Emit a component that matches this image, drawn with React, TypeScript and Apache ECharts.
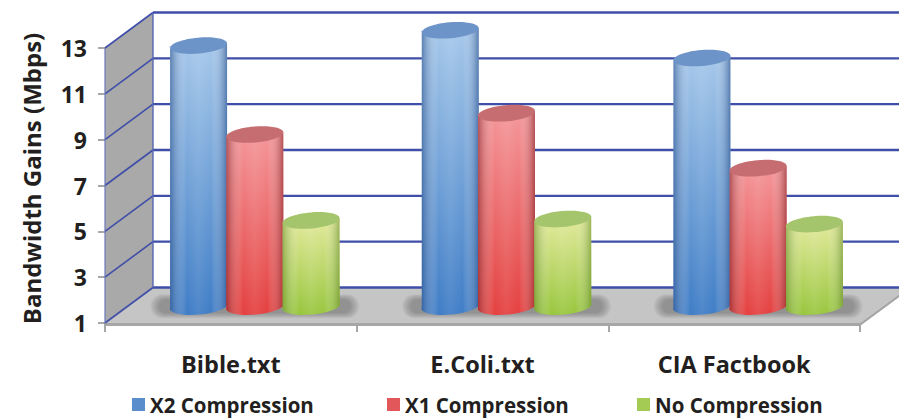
import React, { useEffect, useRef } from "react";
import * as echarts from "echarts";

const categories = ["Bible.txt", "E.Coli.txt", "CIA Factbook"];
const seriesNames = ["X2 Compression", "X1 Compression", "No Compression"];
const x2Values = [12.33, 13.0, 11.79];
const x1Values = [8.45, 9.38, 6.98];
const noValues = [4.7, 4.76, 4.54];
const yTicks = [1, 3, 5, 7, 9, 11, 13];

const FONT = '"Open Sans", sans-serif';
const INK = "#231f20";
const DEPTH_X = 48;
const DEPTH_Y = 35.5;
const LINE = "#3f4ea8";
const TILT = (5 * Math.PI) / 180;

type Palette = { top: string; bottom: string; edge: string; cap: string; swatch: string };
const palettes: Palette[] = [
  { top: "#a6c8ea", bottom: "#3f7dc6", edge: "rgba(40,80,140,0.62)", cap: "#6d94c8", swatch: "#5a8dcb" },
  { top: "#f4979b", bottom: "#e4403f", edge: "rgba(130,30,35,0.58)", cap: "#c56d70", swatch: "#e2575a" },
  { top: "#e4ea9c", bottom: "#98c63e", edge: "rgba(95,135,35,0.55)", cap: "#a5c56c", swatch: "#a4cc55" },
];

function frameItem(params: any, api: any) {
  const cs = params.coordSys;
  const left = cs.x;
  const right = cs.x + cs.width;
  const bottom = api.coord([0, yTicks[0]])[1];
  const top = api.coord([0, yTicks[yTicks.length - 1]])[1];
  const children: any[] = [];
  children.push({
    type: "polygon",
    shape: { points: [[left, bottom], [left, top], [left + DEPTH_X, top - DEPTH_Y], [left + DEPTH_X, bottom - DEPTH_Y]] },
    style: { fill: "#a9a9a9" },
  });
  children.push({
    type: "polygon",
    shape: { points: [[left, bottom], [right, bottom], [right + DEPTH_X, bottom - DEPTH_Y], [left + DEPTH_X, bottom - DEPTH_Y]] },
    style: { fill: "#c5c5c5" },
  });
  children.push({
    type: "polygon",
    shape: { points: [[left, bottom], [right, bottom], [right + DEPTH_X, bottom - DEPTH_Y], [right + DEPTH_X, bottom - DEPTH_Y + 3], [right, bottom + 3], [left, bottom + 3]] },
    style: { fill: "#a6a6a6" },
  });
  yTicks.forEach((v) => {
    const y = api.coord([0, v])[1];
    children.push({
      type: "line",
      shape: { x1: left + DEPTH_X, y1: y - DEPTH_Y, x2: right + DEPTH_X, y2: y - DEPTH_Y },
      style: { stroke: LINE, lineWidth: 2.4 },
    });
    children.push({
      type: "line",
      shape: { x1: left, y1: y, x2: left + DEPTH_X, y2: y - DEPTH_Y },
      style: { stroke: LINE, lineWidth: 1.6 },
    });
  });
  children.push({
    type: "line",
    shape: { x1: left + DEPTH_X, y1: top - DEPTH_Y, x2: left + DEPTH_X, y2: bottom - DEPTH_Y },
    style: { stroke: "#5566b4", lineWidth: 1.4 },
  });
  children.push({
    type: "line",
    shape: { x1: left, y1: top, x2: left, y2: bottom },
    style: { stroke: "#6a78bc", lineWidth: 1.2 },
  });
  return { type: "group", children };
}

function shadowItem(_params: any, api: any) {
  const band = api.size([1, 0])[0];
  const p = api.coord([api.value(0), yTicks[0]]);
  const cx = p[0] + DEPTH_X / 2;
  const cy = p[1] - DEPTH_Y / 2 + 1;
  const layers = [
    { w: 0.83, h: 24 },
    { w: 0.82, h: 22.5 },
    { w: 0.81, h: 21 },
    { w: 0.8, h: 19.5 },
    { w: 0.79, h: 18 },
    { w: 0.78, h: 16.5 },
    { w: 0.77, h: 15 },
    { w: 0.76, h: 13.5 },
  ];
  return {
    type: "group",
    children: layers.map((l) => ({
      type: "rect",
      shape: { x: cx - (band * l.w) / 2, y: cy - l.h / 2, width: band * l.w, height: l.h, r: l.h / 2 },
      style: { fill: "rgba(95,95,95,0.075)" },
    })),
  };
}

function cylinderItem(index: number) {
  const pal = palettes[index];
  return (_params: any, api: any) => {
    const band = api.size([1, 0])[0];
    const rx = band * 0.1135;
    const ry = 8;
    const cx = api.coord([api.value(0), 1])[0] + DEPTH_X / 2 + (index - 1) * band * 0.2235;
    const by = api.coord([api.value(0), yTicks[0]])[1] - DEPTH_Y / 2;
    const ty = api.coord([api.value(0), api.value(1)])[1] - DEPTH_Y / 2;
    const dx = rx * Math.cos(TILT);
    const dy = rx * Math.sin(TILT);
    const deg = -(TILT * 180) / Math.PI;
    const d =
      `M ${cx - dx} ${ty + dy} L ${cx - dx} ${by + dy} ` +
      `A ${rx} ${ry} ${deg} 0 0 ${cx + dx} ${by - dy} L ${cx + dx} ${ty - dy} ` +
      `A ${rx} ${ry} ${deg} 0 1 ${cx - dx} ${ty + dy} Z`;
    const vertical = new echarts.graphic.LinearGradient(0, 0, 0, 1, [
      { offset: 0, color: pal.top },
      { offset: 1, color: pal.bottom },
    ]);
    const horizontal = new echarts.graphic.LinearGradient(0, 0, 1, 0, [
      { offset: 0, color: pal.edge },
      { offset: 0.3, color: "rgba(255,255,255,0)" },
      { offset: 0.5, color: "rgba(255,255,255,0.08)" },
      { offset: 0.72, color: "rgba(255,255,255,0)" },
      { offset: 1, color: pal.edge },
    ]);
    return {
      type: "group",
      children: [
        { type: "path", shape: { pathData: d }, style: { fill: vertical } },
        { type: "path", shape: { pathData: d }, style: { fill: horizontal } },
        {
          type: "ellipse",
          x: cx,
          y: ty,
          rotation: TILT,
          shape: { cx: 0, cy: 0, rx, ry },
          style: { fill: pal.cap },
        },
      ],
    };
  };
}

const valueSets = [x2Values, x1Values, noValues];
const legendLefts = [132, 387, 637];

export default function App() {
  const ref = useRef<HTMLDivElement>(null);
  useEffect(() => {
    const chart = echarts.init(ref.current!, undefined, { renderer: "svg", width: 899, height: 419 });
    chart.setOption({
      animation: false,
      backgroundColor: "#ffffff",
      textStyle: { fontFamily: FONT },
      grid: { left: 105, top: 48, width: 755, height: 275, containLabel: false },
      legend: seriesNames.map((name, i) => ({
        data: [name],
        left: legendLefts[i],
        top: 394,
        padding: 0,
        icon: "rect",
        itemWidth: 13,
        itemHeight: 13,
        itemGap: 0,
        selectedMode: false,
        textStyle: { color: INK, fontFamily: FONT, fontWeight: 700, fontSize: 20.5, padding: [0, 0, 0, 0] },
      })),
      xAxis: {
        type: "category",
        data: categories,
        axisLine: { show: false },
        axisTick: { show: true, length: 9, lineStyle: { color: "#8a8a8a", width: 1.5 } },
        axisLabel: { color: INK, fontFamily: FONT, fontWeight: 700, fontSize: 23.5, margin: 29 },
      },
      yAxis: {
        type: "value",
        min: 1,
        max: 13,
        interval: 2,
        name: "Bandwidth Gains (Mbps)",
        nameLocation: "middle",
        nameRotate: 90,
        nameGap: 62,
        nameTextStyle: { color: INK, fontFamily: FONT, fontWeight: 700, fontSize: 24, padding: [0, 0, 0, 14] },
        axisLine: { show: false },
        axisTick: { show: true, length: 7, lineStyle: { color: "#8a8a8a", width: 1.5 } },
        splitLine: { show: false },
        axisLabel: { color: INK, fontFamily: FONT, fontWeight: 700, fontSize: 23, margin: 18, padding: [18, 0, 0, 0] },
      },
      series: [
        {
          type: "custom",
          name: "frame",
          silent: true,
          clip: false,
          renderItem: frameItem,
          data: [[0, 1]],
          encode: { x: 0, y: 1 },
          z: 1,
        },
        {
          type: "custom",
          name: "floor shadow",
          silent: true,
          clip: false,
          renderItem: shadowItem,
          data: categories.map((_, i) => [i, 1]),
          encode: { x: 0, y: 1 },
          z: 2,
        },
        ...seriesNames.map((name, i) => ({
          type: "custom",
          name,
          clip: false,
          renderItem: cylinderItem(i),
          itemStyle: { color: palettes[i].swatch },
          data: categories.map((_, c) => [c, valueSets[i][c]]),
          encode: { x: 0, y: 1 },
          z: 3 + i,
        })),
      ],
    });
    return () => chart.dispose();
  }, []);
  return <div ref={ref} style={{ position: "fixed", left: 0, top: 0, width: 899, height: 419 }} />;
}
